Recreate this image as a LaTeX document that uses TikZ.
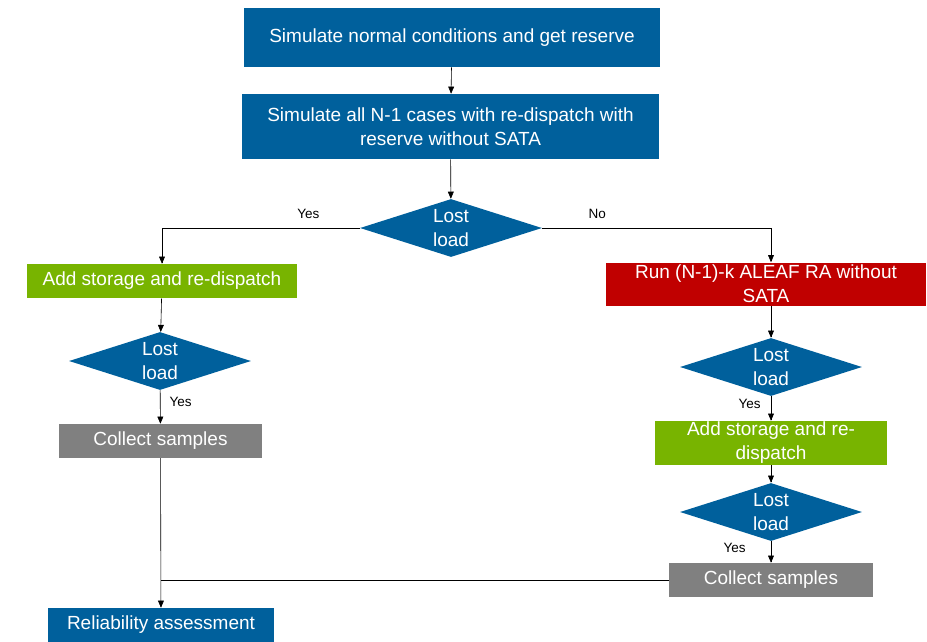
\documentclass[tikz,border=0pt]{standalone}
\usepackage{fontspec}
\setmainfont{Liberation Sans}
\usetikzlibrary{shapes, arrows, positioning, calc}
\definecolor{flowblue}{HTML}{00609C}
\definecolor{flowgreen}{HTML}{78B400}
\definecolor{flowred}{HTML}{C00000}
\definecolor{flowgray}{HTML}{808080}

\begin{document}
\begin{tikzpicture}[x=1pt, y=-1pt, >=triangle 45, semithick,
		box/.style={text=white, font=\fontsize{19}{24}\selectfont, align=center, inner sep=0pt},
		dec/.style={diamond, aspect=3, fill=flowblue, text=white, font=\fontsize{19}{24}\selectfont, align=center, inner sep=0pt, minimum width=182pt, minimum height=58pt},
		lbl/.style={font=\fontsize{13.5}{15}\selectfont, inner sep=1pt}]
			\useasboundingbox (0,0) rectangle (927,641);
			\node[box, fill=flowblue, minimum width=416pt, minimum height=59pt] (sim) at (452,37.5) {Simulate normal conditions and get reserve};
			\node[box, fill=flowblue, minimum width=417pt, minimum height=65pt] (nmone) at (450.5,126.5) {Simulate all N-1 cases with re-dispatch with\\reserve without SATA};
			\node[dec] (lost) at (451,228) {Lost\\load};
			% left branch
			\node[box, fill=flowgreen, minimum width=270pt, minimum height=34pt] (addl) at (162,281) {Add storage and re-dispatch};
			\node[dec] (lostl) at (160,361) {Lost\\load};
			\node[box, fill=flowgray, minimum width=203pt, minimum height=34pt] (coll) at (160.5,441) {Collect samples};
			\node[box, fill=flowblue, minimum width=226pt, minimum height=34pt] (rel) at (161,625) {Reliability assessment};
			% right branch
			\node[box, fill=flowred, minimum width=320pt, minimum height=43pt] (run) at (766,284) {Run (N-1)-k ALEAF RA without\\SATA};
			\node[dec] (lostr) at (771,367) {Lost\\load};
			\node[box, fill=flowgreen, minimum width=232pt, minimum height=44pt] (addr) at (771,443) {Add storage and re-\\dispatch};
			\node[dec] (lostrr) at (771,512) {Lost\\load};
			\node[box, fill=flowgray, minimum width=204pt, minimum height=34pt] (colr) at (771,580) {Collect samples};
			\draw[->] (sim) -- (nmone);
			\draw[->] (nmone) -- (lost);
			\draw[->] (lost.west) -| node[lbl, pos=0.13, above=8pt] {Yes} (addl);
			\draw[->] (lost.east) -| node[lbl, pos=0.12, above=8pt] {No} (lostr.north |- run.north);
			\draw[->] (addl) -- (lostl);
			\draw[->] (lostl) -- node[lbl, pos=0.35, right=8pt] {Yes} (coll);
			\draw[->] (coll) -- (rel);
			\draw[->] (run.south -| lostr) -- (lostr);
			\draw[->] (lostr) -- node[lbl, pos=0.3, left=9pt] {Yes} (addr);
			\draw[->] (addr) -- (lostrr);
			\draw[->] (lostrr) -- node[lbl, pos=0.3, left=24pt] {Yes} (colr);
			\draw (colr.west) -- (colr.west -| coll);
		\end{tikzpicture}
\end{document}
